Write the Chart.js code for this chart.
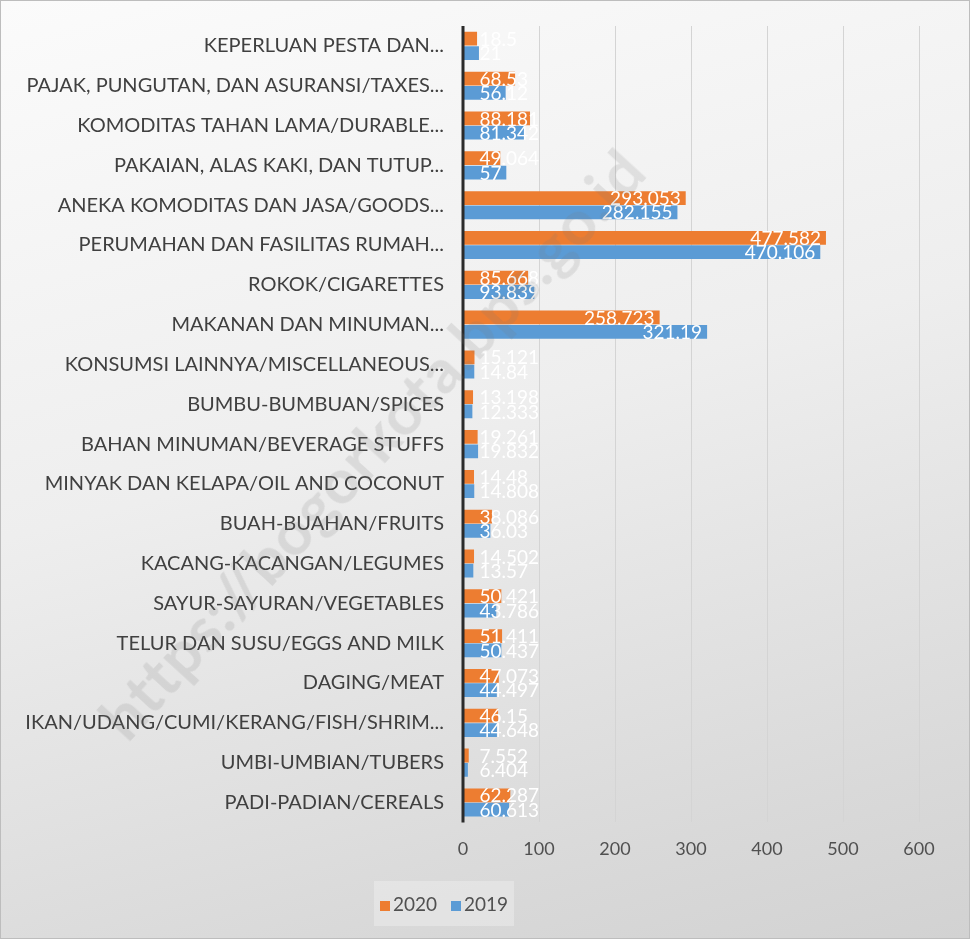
<!DOCTYPE html>
<html>
<head>
<meta charset="utf-8">
<script src="https://cdn.jsdelivr.net/npm/chart.js@4.4.1/dist/chart.umd.min.js"></script>
<style>
  html, body { margin: 0; padding: 0; }
  body { width: 970px; height: 939px; overflow: hidden; }
  #wrap {
    position: relative; width: 968px; height: 937px;
    border: 1px solid #bdbdbd;
    background: linear-gradient(165deg, #fbfbfb 0%, #eeeeee 45%, #d9d9d9 85%, #d2d2d2 100%);
    overflow: hidden;
  }
  #c { position: absolute; left: 0; top: 0; }
  #legend {
    position: absolute; left: 373px; top: 880px; width: 140px; height: 45px;
    background: rgba(255,255,255,0.28);
    display: flex; align-items: center; justify-content: center; gap: 14px;
    font-family: Lato, "Open Sans", sans-serif; font-size: 19px; color: #505050;
  }
  #legend span.sw { display: inline-block; width: 10px; height: 10px; margin-right: 3px; vertical-align: middle; }
  #wm {
    position: absolute; left: -80px; top: 405px; width: 900px; text-align: center;
    transform: rotate(-47.5deg); transform-origin: 50% 50%;
    font-family: Lato, sans-serif; font-weight: 700; font-size: 62px; letter-spacing: 1px;
    color: rgba(120,120,120,0.16); pointer-events: none; white-space: nowrap;
  }
</style>
</head>
<body>
<div id="wrap">
  <canvas id="c" width="968" height="937"></canvas>
  <div id="wm">https://bogorkota.bps.go.id</div>
  <div id="legend"></div>
</div>
<script>
const categories = [
  "KEPERLUAN PESTA DAN...",
  "PAJAK, PUNGUTAN, DAN ASURANSI/TAXES...",
  "KOMODITAS TAHAN LAMA/DURABLE...",
  "PAKAIAN, ALAS KAKI, DAN TUTUP...",
  "ANEKA KOMODITAS DAN JASA/GOODS...",
  "PERUMAHAN DAN FASILITAS RUMAH...",
  "ROKOK/CIGARETTES",
  "MAKANAN DAN MINUMAN...",
  "KONSUMSI LAINNYA/MISCELLANEOUS...",
  "BUMBU-BUMBUAN/SPICES",
  "BAHAN MINUMAN/BEVERAGE STUFFS",
  "MINYAK DAN KELAPA/OIL AND COCONUT",
  "BUAH-BUAHAN/FRUITS",
  "KACANG-KACANGAN/LEGUMES",
  "SAYUR-SAYURAN/VEGETABLES",
  "TELUR DAN SUSU/EGGS AND MILK",
  "DAGING/MEAT",
  "IKAN/UDANG/CUMI/KERANG/FISH/SHRIM...",
  "UMBI-UMBIAN/TUBERS",
  "PADI-PADIAN/CEREALS"
];
const values2020 = [18.5, 68.53, 88.181, 49.064, 293.053, 477.582, 85.668, 258.723, 15.121, 13.198, 19.261, 14.48, 38.086, 14.502, 50.421, 51.411, 47.073, 46.15, 7.552, 62.287];
const values2019 = [21, 56.12, 81.342, 57, 282.155, 470.106, 93.839, 321.19, 14.84, 12.333, 19.832, 14.808, 36.03, 13.57, 43.786, 50.437, 44.497, 44.648, 6.404, 60.613];
const seriesNames = ["2020", "2019"];
const seriesColors = ["#ED7D31", "#5B9BD5"];
const xTicks = [0, 100, 200, 300, 400, 500, 600];

const FONT = 'Lato, "Open Sans", sans-serif';

const labelPlugin = {
  id: 'endLabels',
  afterDatasetsDraw(chart) {
    const ctx = chart.ctx;
    ctx.save();
    ctx.font = '19px ' + FONT;
    ctx.fillStyle = '#ffffff';
    ctx.textBaseline = 'middle';
    ctx.textAlign = 'left';
    chart.data.datasets.forEach((ds, di) => {
      const meta = chart.getDatasetMeta(di);
      meta.data.forEach((bar, i) => {
        const txt = String(ds.data[i]);
        const w = ctx.measureText(txt).width;
        const x = Math.max(bar.x - 5 - w, bar.base + 16);
        ctx.fillText(txt, x, bar.y + 1);
      });
    });
    ctx.restore();
  }
};

const axisLinePlugin = {
  id: 'zeroLine',
  afterDatasetsDraw(chart) {
    const ctx = chart.ctx, x = chart.scales.x.getPixelForValue(0), a = chart.chartArea;
    ctx.save();
    ctx.strokeStyle = '#2b2b2b';
    ctx.lineWidth = 3;
    ctx.beginPath(); ctx.moveTo(x, a.top); ctx.lineTo(x, a.bottom); ctx.stroke();
    ctx.restore();
  }
};

const chart = new Chart(document.getElementById('c'), {
  type: 'bar',
  data: {
    labels: categories,
    datasets: [
      { label: seriesNames[0], data: values2020, backgroundColor: seriesColors[0] },
      { label: seriesNames[1], data: values2019, backgroundColor: seriesColors[1] }
    ]
  },
  options: {
    indexAxis: 'y',
    responsive: false,
    animation: false,
    devicePixelRatio: 1,
    datasets: { bar: { barPercentage: 0.96, categoryPercentage: 0.72 } },
    layout: { padding: { left: 0, right: 50, top: 25, bottom: 62 } },
    plugins: { legend: { display: false }, tooltip: { enabled: false } },
    scales: {
      x: {
        min: 0, max: 600,
        afterBuildTicks(s) { s.ticks = xTicks.map(v => ({ value: v })); },
        grid: { color: '#d4d4d4', lineWidth: 1, drawTicks: false },
        border: { display: false },
        ticks: { color: '#505050', font: { family: FONT, size: 18 }, padding: 16 }
      },
      y: {
        afterFit(s) { s.width = 462; },
        grid: { display: false },
        border: { display: false },
        ticks: { color: '#404040', font: { family: FONT, size: 20 }, padding: 11, autoSkip: false }
      }
    }
  },
  plugins: [labelPlugin, axisLinePlugin]
});

const lg = document.getElementById('legend');
chart.data.datasets.forEach(ds => {
  const item = document.createElement('div');
  item.innerHTML = '<span class="sw" style="background:' + ds.backgroundColor + '"></span>' + ds.label;
  lg.appendChild(item);
});
</script>
</body>
</html>
